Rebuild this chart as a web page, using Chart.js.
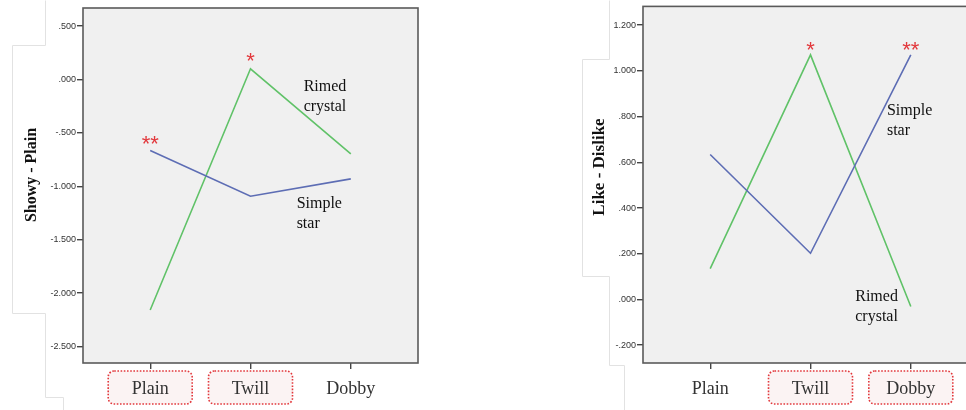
<!DOCTYPE html>
<html>
<head>
<meta charset="utf-8">
<script src="https://cdn.jsdelivr.net/npm/chart.js@4"></script>
<style>
  html, body { margin: 0; padding: 0; width: 966px; height: 410px; overflow: hidden; background: #fff; }
  .panel { position: absolute; top: 0; width: 430px; height: 410px; }
  #leftPanel { left: 0; }
  #rightPanel { left: 560px; }
</style>
</head>
<body>
<div class="panel" id="leftPanel"><canvas id="showyChart"></canvas></div>
<div class="panel" id="rightPanel"><canvas id="likeChart"></canvas></div>
<script>
// Fabric weave categories on the x axis
const fabrics = ['Plain', 'Twill', 'Dobby'];

// Showy - Plain scores by weave
const showySimpleStar = [-0.665, -1.093, -0.931];
const showyRimedCrystal = [-2.159, 0.100, -0.697];
const showyTicks = [0.5, 0, -0.5, -1, -1.5, -2, -2.5];

// Like - Dislike scores by weave
const likeSimpleStar = [0.634, 0.202, 1.070];
const likeRimedCrystal = [0.135, 1.070, -0.031];
const likeTicks = [1.2, 1.0, 0.8, 0.6, 0.4, 0.2, 0, -0.2];

// Weaves whose label is outlined (significant difference)
const showyBoxed = ['Plain', 'Twill'];
const likeBoxed = ['Twill', 'Dobby'];

const BLUE = '#5d6db4';
const GREEN = '#60c268';
const RED = '#e2383c';

function fmtTick(v) {
  let s = Math.abs(v).toFixed(3);
  if (s.startsWith('0')) s = s.slice(1);
  return (v < -1e-9 ? '-' : '') + s;
}

function points(values) {
  return values.map((v, i) => ({ x: i, y: v }));
}

function drawOutline(ctx, pts) {
  ctx.save();
  ctx.strokeStyle = '#e2e2e2';
  ctx.lineWidth = 1;
  ctx.beginPath();
  pts.forEach((p, i) => i ? ctx.lineTo(p[0] + 0.5, p[1] + 0.5) : ctx.moveTo(p[0] + 0.5, p[1] + 0.5));
  ctx.stroke();
  ctx.restore();
}

function makeChart(id, cfg) {
  const decor = {
    id: 'decor' + id,
    beforeDraw(chart) {
      const { ctx, chartArea: a, scales } = chart;
      drawOutline(ctx, cfg.outline);
      // plot background
      ctx.save();
      ctx.fillStyle = '#f0f0f0';
      ctx.fillRect(a.left, a.top, a.right - a.left, a.bottom - a.top);
      // boxes behind highlighted weave labels
      ctx.strokeStyle = RED;
      ctx.fillStyle = '#fbf3f3';
      ctx.lineWidth = 1.6;
      ctx.setLineDash([1.6, 1.6]);
      fabrics.forEach((f, i) => {
        if (!cfg.boxed.includes(f)) return;
        const cx = scales.x.getPixelForValue(i);
        ctx.beginPath();
        ctx.roundRect(cx - 42, a.bottom + 8, 84, 33, 6);
        ctx.fill();
        ctx.stroke();
      });
      ctx.restore();
      // axis title
      ctx.save();
      ctx.translate(cfg.title.x, cfg.title.y);
      ctx.rotate(-Math.PI / 2);
      ctx.font = 'bold ' + cfg.title.size + 'px "Liberation Serif", "Times New Roman", serif';
      ctx.fillStyle = '#111';
      ctx.textAlign = 'center';
      ctx.textBaseline = 'middle';
      ctx.fillText(cfg.title.text, 0, 0);
      ctx.restore();
    },
    afterDraw(chart) {
      const { ctx, chartArea: a, scales } = chart;
      ctx.save();
      // plot frame
      ctx.strokeStyle = '#5a5a5a';
      ctx.lineWidth = 1.6;
      ctx.strokeRect(a.left, a.top, a.right - a.left, a.bottom - a.top);
      // series names
      ctx.fillStyle = '#111';
      ctx.font = '16px "Liberation Serif", "Times New Roman", serif';
      ctx.textAlign = 'left';
      ctx.textBaseline = 'middle';
      cfg.names.forEach(n => {
        const x = scales.x.getPixelForValue(n.x);
        const y = scales.y.getPixelForValue(n.y);
        n.lines.forEach((t, k) => ctx.fillText(t, x, y + k * 20));
      });
      // significance asterisks
      ctx.fillStyle = RED;
      ctx.font = '22px "Liberation Sans", Arial, sans-serif';
      ctx.textAlign = 'center';
      ctx.textBaseline = 'alphabetic';
      cfg.marks.forEach(m => {
        const x = scales.x.getPixelForValue(m.cat);
        const y = scales.y.getPixelForValue(m.value) - m.gap;
        ctx.fillText(m.text, x, y + 13);
      });
      ctx.restore();
    }
  };

  return new Chart(document.getElementById(id), {
    type: 'line',
    data: {
      datasets: [
        { label: 'Simple star', data: points(cfg.simple), borderColor: BLUE, borderWidth: 1.6, pointRadius: 0, tension: 0 },
        { label: 'Rimed crystal', data: points(cfg.rimed), borderColor: GREEN, borderWidth: 1.6, pointRadius: 0, tension: 0 }
      ]
    },
    options: {
      responsive: true,
      maintainAspectRatio: false,
      devicePixelRatio: 1,
      animation: false,
      layout: { padding: { top: cfg.top, right: 12, left: 0, bottom: 0 } },
      plugins: { legend: { display: false }, tooltip: { enabled: false } },
      scales: {
        x: {
          type: 'linear',
          min: -0.67,
          max: 2.67,
          afterBuildTicks: s => { s.ticks = fabrics.map((f, i) => ({ value: i })); },
          afterFit: s => { s.height = 47; },
          ticks: {
            callback: v => fabrics[v],
            font: { family: '"Liberation Serif", "Times New Roman", serif', size: 18 },
            color: '#333',
            padding: 9,
            autoSkip: false,
            maxRotation: 0
          },
          grid: { drawOnChartArea: false, drawTicks: true, tickLength: 6, color: '#444', lineWidth: 1.4 },
          border: { display: false }
        },
        y: {
          min: cfg.yMin,
          max: cfg.yMax,
          afterBuildTicks: s => { s.ticks = cfg.ticks.map(v => ({ value: v })); },
          afterFit: s => { s.width = 83; },
          ticks: {
            callback: v => fmtTick(v),
            font: { family: '"Liberation Sans", Arial, sans-serif', size: 9 },
            color: '#333',
            padding: 1
          },
          grid: { drawOnChartArea: false, drawTicks: true, tickLength: 6, color: '#444', lineWidth: 1.4 },
          border: { display: false }
        }
      }
    },
    plugins: [decor]
  });
}

makeChart('showyChart', {
  simple: showySimpleStar,
  rimed: showyRimedCrystal,
  ticks: showyTicks,
  yMin: -2.655,
  yMax: 0.669,
  top: 8,
  boxed: showyBoxed,
  title: { text: 'Showy - Plain', x: 32, y: 175, size: 16 },
  outline: [[45, 0], [45, 45], [12, 45], [12, 313], [45, 313], [45, 397], [63, 397], [63, 410]],
  names: [
    { x: 1.53, y: -0.066, lines: ['Rimed', 'crystal'] },
    { x: 1.46, y: -1.165, lines: ['Simple', 'star'] }
  ],
  marks: [
    { cat: 0, value: showySimpleStar[0], text: '**', gap: 12 },
    { cat: 1, value: showyRimedCrystal[1], text: '*', gap: 14 }
  ]
});

makeChart('likeChart', {
  simple: likeSimpleStar,
  rimed: likeRimedCrystal,
  ticks: likeTicks,
  yMin: -0.278,
  yMax: 1.282,
  top: 5,
  boxed: likeBoxed,
  title: { text: 'Like - Dislike', x: 40, y: 167, size: 17 },
  outline: [[49, 0], [49, 59], [22, 59], [22, 276], [49, 276], [49, 365], [64, 365], [64, 410]],
  names: [
    { x: 1.762, y: 0.824, lines: ['Simple', 'star'] },
    { x: 1.446, y: 0.010, lines: ['Rimed', 'crystal'] }
  ],
  marks: [
    { cat: 1, value: likeRimedCrystal[1], text: '*', gap: 11 },
    { cat: 2, value: likeSimpleStar[2], text: '**', gap: 11 }
  ]
});
</script>
</body>
</html>
